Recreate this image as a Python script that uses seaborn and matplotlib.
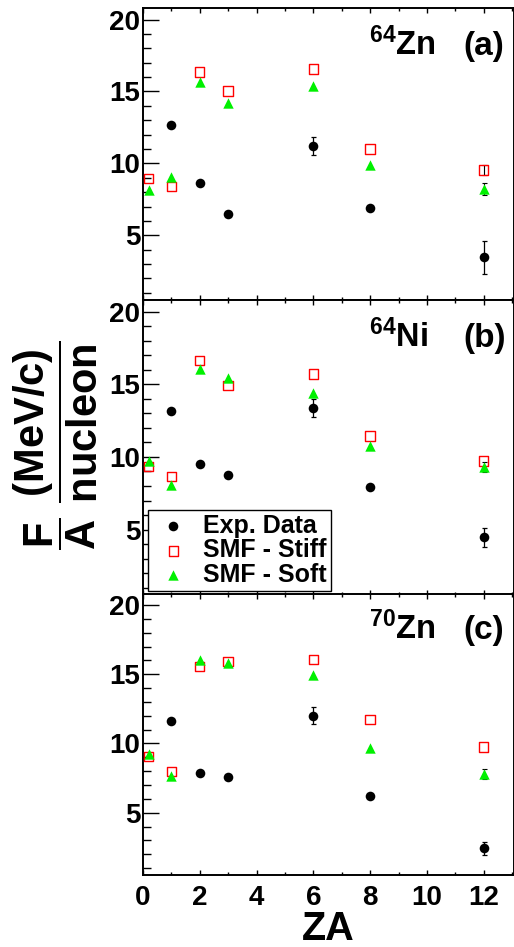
"""
plot.py
Three stacked panels of F/A (MeV/c per nucleon) versus ZA for 64Zn, 64Ni and 70Zn:
experimental data compared with SMF stiff / soft calculations.
"""

import numpy as np
import pandas as pd
import matplotlib
matplotlib.use("Agg")
import matplotlib.pyplot as plt
from matplotlib.ticker import MultipleLocator
import seaborn as sns

# ── Data ──────────────────────────────────────────────────────────────────────
ZA_EXP   = [1, 2, 3, 6, 8, 12]
ZA_MODEL = [0.2, 1, 2, 3, 6, 8, 12]

# 64Zn (a)
exp_64zn       = [12.67, 8.64, 6.47, 11.18, 6.91, 3.46]
exp_64zn_err   = [0.15, 0.15, 0.15, 0.62, 0.15, 1.13]
stiff_64zn     = [8.96, 8.41, 16.36, 15.02, 16.57, 10.99, 9.54]
stiff_64zn_err = [0, 0, 0, 0, 0, 0, 0.35]
soft_64zn      = [8.13, 9.06, 15.69, 14.19, 15.39, 9.88, 8.20]
soft_64zn_err  = [0, 0, 0, 0, 0, 0, 0.4]

# 64Ni (b)
exp_64ni       = [13.15, 9.52, 8.78, 13.38, 7.91, 4.48]
exp_64ni_err   = [0.15, 0.15, 0.15, 0.63, 0.15, 0.65]
stiff_64ni     = [9.33, 8.67, 16.62, 14.90, 15.72, 11.45, 9.72]
stiff_64ni_err = [0, 0, 0, 0, 0, 0, 0]
soft_64ni      = [9.75, 8.09, 16.02, 15.45, 14.39, 10.78, 9.31]
soft_64ni_err  = [0, 0, 0, 0, 0, 0, 0.35]

# 70Zn (c)
exp_70zn       = [11.61, 7.86, 7.55, 12.02, 6.20, 2.43]
exp_70zn_err   = [0.15, 0.15, 0.15, 0.60, 0.15, 0.48]
stiff_70zn     = [9.06, 7.96, 15.55, 15.91, 16.08, 11.75, 9.76]
stiff_70zn_err = [0, 0, 0, 0, 0, 0, 0]
soft_70zn      = [9.25, 7.62, 16.03, 15.79, 14.95, 9.64, 7.79]
soft_70zn_err  = [0, 0, 0, 0, 0, 0, 0.35]

PANELS = [
    ("64", "Zn", "(a)", exp_64zn, exp_64zn_err, stiff_64zn, stiff_64zn_err, soft_64zn, soft_64zn_err),
    ("64", "Ni", "(b)", exp_64ni, exp_64ni_err, stiff_64ni, stiff_64ni_err, soft_64ni, soft_64ni_err),
    ("70", "Zn", "(c)", exp_70zn, exp_70zn_err, stiff_70zn, stiff_70zn_err, soft_70zn, soft_70zn_err),
]

GREEN = "#00f000"

# ── Style ─────────────────────────────────────────────────────────────────────
sns.set_theme(style="ticks")
plt.rcParams["font.family"] = ["Liberation Sans", "DejaVu Sans"]
plt.rcParams["font.weight"] = "bold"
plt.rcParams["mathtext.fontset"] = "custom"
plt.rcParams["mathtext.rm"] = "Liberation Sans:bold"
plt.rcParams["mathtext.bf"] = "Liberation Sans:bold"
plt.rcParams["mathtext.it"] = "Liberation Sans:bold"
for key in ["text.color", "axes.labelcolor", "xtick.color", "ytick.color", "axes.edgecolor"]:
    plt.rcParams[key] = "black"

W, H = 514, 947
fig = plt.figure(figsize=(W / 100, H / 100), dpi=100)

# pixel boxes (top, bottom) of each panel
boxes = [(8, 300), (300, 595), (594, 875)]
left, right = 143, 513.5

axes = []
for top, bot in boxes:
    ax = fig.add_axes([left / W, 1 - bot / H, (right - left) / W, (bot - top) / H])
    axes.append(ax)


def draw_err(ax, x, y, err, lw):
    # skip points whose error bar is hidden by the marker
    idx = [k for k, e in enumerate(err) if e > 0]
    if not idx:
        return
    ax.errorbar([x[k] for k in idx], [y[k] for k in idx], yerr=[err[k] for k in idx],
                fmt="none", ecolor="black", elinewidth=lw, capsize=1.8,
                capthick=lw, zorder=2)


for i, (ax, panel) in enumerate(zip(axes, PANELS)):
    mass, elem, tag, exp, exp_err, stiff, stiff_err, soft, soft_err = panel

    df_exp   = pd.DataFrame({"ZA": ZA_EXP, "FA": exp})
    df_stiff = pd.DataFrame({"ZA": ZA_MODEL, "FA": stiff})
    df_soft  = pd.DataFrame({"ZA": ZA_MODEL, "FA": soft})

    draw_err(ax, ZA_EXP, exp, exp_err, 0.9)
    draw_err(ax, ZA_MODEL, stiff, stiff_err, 0.8)
    draw_err(ax, ZA_MODEL, soft, soft_err, 0.8)

    sns.scatterplot(data=df_exp, x="ZA", y="FA", ax=ax, marker="o", s=48,
                    color="black", edgecolor="black", linewidth=0,
                    label="Exp. Data", legend=False, zorder=3)
    sns.scatterplot(data=df_stiff, x="ZA", y="FA", ax=ax, marker="s", s=46,
                    color="red", facecolor="none", edgecolor="red", linewidth=1.0,
                    label="SMF - Stiff", legend=False, zorder=3)
    sns.scatterplot(data=df_soft, x="ZA", y="FA", ax=ax, marker="^", s=56,
                    color=GREEN, edgecolor=GREEN, linewidth=0,
                    label="SMF - Soft", legend=False, zorder=4)

    ax.set_xlim(0, 13.05)
    ax.set_ylim(0.5, 20.8)
    ax.xaxis.set_major_locator(MultipleLocator(2))
    ax.xaxis.set_minor_locator(MultipleLocator(1))
    ax.yaxis.set_minor_locator(MultipleLocator(1))
    ax.set_yticks([5, 10, 15, 20])

    ax.tick_params(axis="y", which="major", direction="in", length=11.5, width=1.0,
                   labelsize=20, pad=2, left=True, right=False, colors="black")
    ax.tick_params(axis="y", which="minor", direction="in", length=6, width=1.0,
                   left=True, right=False, colors="black")
    ax.tick_params(axis="x", which="major", direction="in", length=3.6, width=1.0,
                   labelsize=20, pad=7, top=True, bottom=True, colors="black")
    ax.tick_params(axis="x", which="minor", direction="in", length=2.0, width=1.0,
                   top=True, bottom=True, colors="black")
    for lab in ax.get_yticklabels() + ax.get_xticklabels():
        lab.set_fontweight("bold")

    for sp in ax.spines.values():
        sp.set_visible(True)
        sp.set_linewidth(1.4)
        sp.set_color("black")

    ax.set_xlabel("")
    ax.set_ylabel("")
    if i < 2:
        ax.tick_params(axis="x", labelbottom=False)

    ax.text(0.611, 0.839, r"$^{\mathbf{" + mass + r"}}\mathbf{" + elem + r"}$",
            transform=ax.transAxes, ha="left", va="baseline", fontsize=23.5,
            color="black")
    ax.text(0.865, 0.839, tag, transform=ax.transAxes, ha="left", va="baseline",
            fontsize=24, fontweight="bold", color="black")

# legend in panel (b)
ax_b = axes[1]
handles, labels = ax_b.get_legend_handles_labels()
leg = ax_b.legend(handles, labels, loc="lower left", bbox_to_anchor=(0.0135, 0.0136),
                  borderaxespad=0, frameon=True, fancybox=False, shadow=False,
                  prop={"weight": "bold", "size": 18}, handlelength=1.7,
                  handletextpad=0.35, labelspacing=0.02, borderpad=0.16,
                  labelcolor="black")
leg.get_frame().set_edgecolor("black")
leg.get_frame().set_linewidth(1.0)
leg.get_frame().set_alpha(1)
leg.set_zorder(10)

# x label on the bottom panel
ax_c = axes[2]
ax_c.set_xlabel("ZA", fontsize=28.5, fontweight="bold", color="black")
ax_c.xaxis.set_label_coords(0.5, -(910 - 875) / (875 - 594))

# shared y label: F/A (MeV/c)/nucleon as stacked fractions
fig.text(56 / W, 1 - 445 / H,
         r"$\dfrac{\mathbf{F}}{\mathbf{A}}\ \dfrac{\mathbf{(MeV/c)}}{\mathbf{nucleon}}$",
         rotation=90, ha="center", va="center", fontsize=30, color="black")

fig.savefig("out.png", dpi=100)
